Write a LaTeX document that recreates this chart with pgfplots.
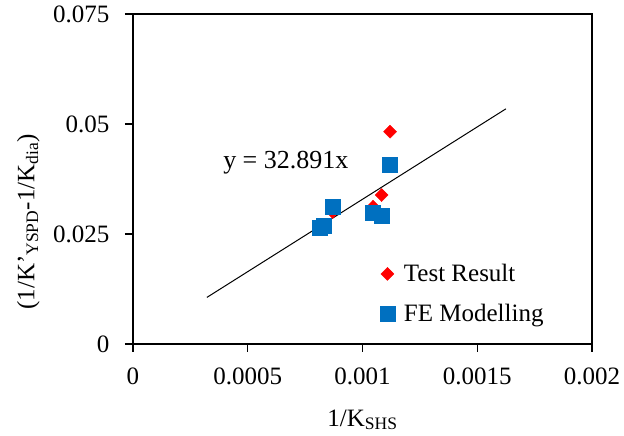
\documentclass[border=0pt]{standalone}
\usepackage{fontspec}
\setmainfont{Liberation Serif}
\usepackage{pgfplots}
\pgfplotsset{compat=1.18}
\definecolor{feblue}{HTML}{0070C0}
\newcommand{\bigf}{\fontsize{25}{30}\selectfont}
\begin{document}
\begin{tikzpicture}[x=1pt,y=1pt,font=\bigf]
\path[use as bounding box] (-133,-92) rectangle (491,344);
\begin{axis}[
    scale only axis,
    width=459pt, height=330pt,
    xmin=0, xmax=0.002,
    ymin=0, ymax=0.075,
    scaled x ticks=false, scaled y ticks=false,
    xtick={0,0.0005,0.001,0.0015,0.002},
    xticklabels={0,0.0005,0.001,0.0015,0.002},
    ytick={0,0.025,0.05,0.075},
    yticklabels={0,0.025,0.05,0.075},
    xtick pos=bottom, ytick pos=left,
    tick align=outside,
    major tick length=8pt,
    tick style={black, line width=1.3pt},
    axis line style={line width=1.3pt},
    tick label style={font=\bigf},
    xticklabel style={yshift=-12pt},
    yticklabel style={xshift=-12pt},
    xlabel={1/K\textsubscript{SHS}},
    ylabel={(1/K’\textsubscript{YSPD}-1/K\textsubscript{dia})},
    label style={font=\bigf},
    xlabel style={at={(axis description cs:0.5,-0.23)}, anchor=center},
    ylabel style={at={(axis description cs:-0.228,0.37)}, anchor=center},
    legend style={draw=none, fill=none, at={(axis description cs:0.531,0.152)}, anchor=west,
        row sep=17pt, font=\bigf, /tikz/every odd column/.append style={column sep=7pt}},
    legend cell align=left,
]
\addplot[only marks, mark=diamond*, mark size=6.5pt, color=red, mark options={fill=red, draw=red, xscale=1.33}] coordinates {
    (0.00112,0.04825) (0.001083,0.03386) (0.001046,0.0312) (0.00087,0.0300) (0.000829,0.0268)
};
\addlegendentry{Test Result}
\addplot[only marks, mark=square*, mark size=7.5pt, color=feblue, mark options={fill=feblue, draw=feblue}] coordinates {
    (0.00112,0.0407) (0.00087,0.0312) (0.000829,0.0270) (0.000815,0.0265) (0.001044,0.0298) (0.001084,0.0291)
};
\addlegendentry{FE Modelling}
\addplot[black, line width=1pt, forget plot] coordinates {(0.000322,0.01059) (0.001625,0.05345)};
\node[font=\fontsize{26}{31}\selectfont] at (axis cs:0.000666,0.0412) {y = 32.891x};
\end{axis}
\end{tikzpicture}
\end{document}
